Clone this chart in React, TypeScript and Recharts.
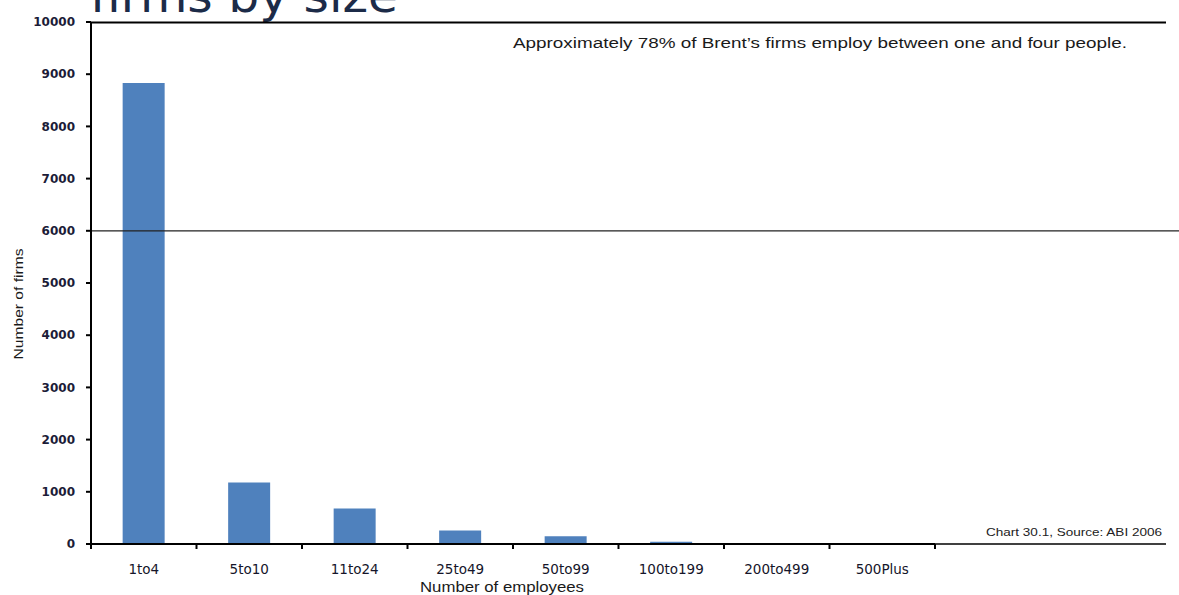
import { Bar, BarChart, ReferenceLine, XAxis, YAxis } from "recharts";

const categories = ["1to4", "5to10", "11to24", "25to49", "50to99", "100to199", "200to499", "500Plus"];
const firms = [8830, 1180, 680, 260, 150, 45, 15, 5];
const yTicks = [0, 1000, 2000, 3000, 4000, 5000, 6000, 7000, 8000, 9000, 10000];

const data = categories.map((size, i) => ({ size, firms: firms[i] }));

const W = 1179;
const H = 595;
const PLOT_LEFT = 91;
const PLOT_RIGHT = 935;
const PLOT_TOP = 22;
const PLOT_BOTTOM = 544;
const BAND = (PLOT_RIGHT - PLOT_LEFT) / categories.length;
const yOf = (v: number) => PLOT_BOTTOM - (v / 10000) * (PLOT_BOTTOM - PLOT_TOP);

function XTick(props: any) {
  const { x, payload, index } = props;
  return (
    <g>
      <line x1={x - BAND / 2} x2={x - BAND / 2} y1={PLOT_BOTTOM} y2={PLOT_BOTTOM + 5} stroke="#000" strokeWidth={2} />
      {index === categories.length - 1 && (
        <line x1={x + BAND / 2} x2={x + BAND / 2} y1={PLOT_BOTTOM} y2={PLOT_BOTTOM + 5} stroke="#000" strokeWidth={2} />
      )}
      <text x={x} y={574} textAnchor="middle" fontFamily="DejaVu Sans" fontSize={13.5} fill="#15152a">
        {payload.value}
      </text>
    </g>
  );
}

export default function App() {
  return (
    <div style={{ position: "absolute", left: 0, top: 0, width: W, height: H, background: "#fff" }}>
      <BarChart
        width={PLOT_RIGHT + 5}
        height={H}
        data={data}
        margin={{ top: PLOT_TOP, right: 5, bottom: H - PLOT_BOTTOM - 30, left: 31 }}
        barCategoryGap="30%"
      >
        <XAxis
          dataKey="size"
          height={30}
          interval={0}
          axisLine={{ stroke: "#000", strokeWidth: 2 }}
          tickLine={false}
          tickSize={5}
          tickMargin={0}
          tick={<XTick />}
        />
        <YAxis
          width={60}
          domain={[0, 10000]}
          ticks={yTicks}
          interval={0}
          axisLine={{ stroke: "#000", strokeWidth: 2 }}
          tickLine={{ stroke: "#000", strokeWidth: 2 }}
          tickSize={5}
          tickMargin={11}
          tick={{ fontFamily: "DejaVu Sans", fontWeight: "bold", fontSize: 12, fill: "#1c1c38" }}
        />
        <ReferenceLine y={6000} stroke="#222" strokeWidth={1.2} />
        <Bar dataKey="firms" fill="#4f81bd" isAnimationActive={false} />
      </BarChart>
      <svg width={W} height={H} style={{ position: "absolute", left: 0, top: 0, pointerEvents: "none" }}>
        <text x={90} y={12} fontFamily="DejaVu Sans" fontSize={46} fill="#1c2b48" textLength={308} lengthAdjust="spacingAndGlyphs">
          firms by size
        </text>
        <line x1={PLOT_LEFT - 1} x2={1166} y1={PLOT_TOP + 0.5} y2={PLOT_TOP + 0.5} stroke="#000" strokeWidth={2.2} />
        <line x1={PLOT_RIGHT} x2={W} y1={yOf(6000)} y2={yOf(6000)} stroke="#222" strokeWidth={1.2} />
        <line x1={PLOT_RIGHT} x2={1166} y1={PLOT_BOTTOM} y2={PLOT_BOTTOM} stroke="#000" strokeWidth={1.6} />
        <text x={513} y={48} fontFamily="Liberation Sans" fontSize={15.5} fill="#1a1a1a" textLength={614} lengthAdjust="spacingAndGlyphs">
          Approximately 78% of Brent’s firms employ between one and four people.
        </text>
        <text x={986} y={536} fontFamily="Liberation Sans" fontSize={11} fill="#222" textLength={176} lengthAdjust="spacingAndGlyphs">
          Chart 30.1, Source: ABI 2006
        </text>
        <text x={502} y={592} textAnchor="middle" fontFamily="Liberation Sans" fontSize={14} fill="#1a1a1a" textLength={164} lengthAdjust="spacingAndGlyphs">
          Number of employees
        </text>
        <text
          transform="translate(23, 304) rotate(-90)"
          textAnchor="middle"
          fontFamily="Liberation Sans"
          fontSize={13}
          fill="#1a1a1a"
          textLength={111}
          lengthAdjust="spacingAndGlyphs"
        >
          Number of firms
        </text>
      </svg>
    </div>
  );
}
